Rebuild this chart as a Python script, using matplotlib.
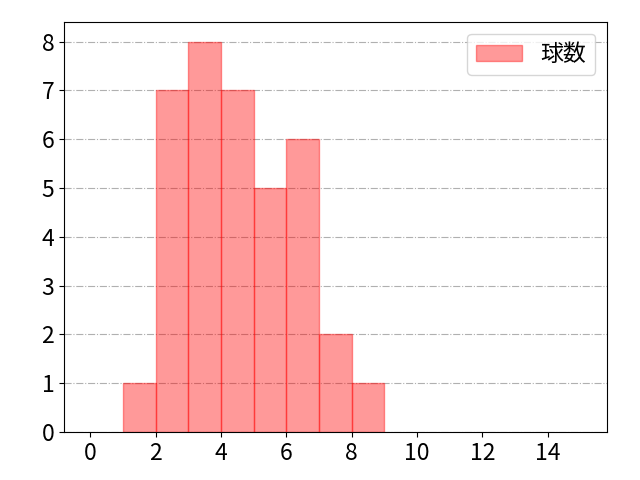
import numpy as np
import matplotlib
matplotlib.use('Agg')
import matplotlib.pyplot as plt

plt.rcParams['font.family'] = ['Noto Sans CJK JP', 'DejaVu Sans']
plt.rcParams['font.size'] = 16.5

# histogram data
bin_edges = [1, 2, 3, 4, 5, 6, 7, 8, 9]
counts = [1, 7, 8, 7, 5, 6, 2, 1]
label = '球数'

fig, ax = plt.subplots(figsize=(6.4, 4.8), dpi=100)
fig.subplots_adjust(left=0.1, right=0.948, top=0.954, bottom=0.1)
ax.bar(bin_edges[:-1], counts, width=np.diff(bin_edges), align='edge',
       color='red', alpha=0.4, edgecolor='red', linewidth=1, label=label)

ax.set_xlim(-0.8, 15.8)
ax.set_ylim(0, 8.4)
ax.set_xticks(np.arange(0, 15, 2))
ax.set_yticks(np.arange(0, 9, 1))
ax.grid(axis='y', linestyle='-.', color='#b0b0b0', linewidth=0.8)
ax.set_axisbelow(True)
ax.legend(loc='upper right')

plt.savefig('out.png')
